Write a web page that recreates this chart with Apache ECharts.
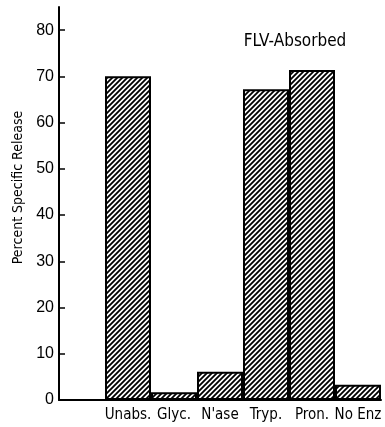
<!DOCTYPE html>
<html>
<head>
<meta charset="utf-8">
<script src="https://cdn.jsdelivr.net/npm/echarts@6/dist/echarts.min.js"></script>
<style>
  html, body { margin: 0; padding: 0; background: #fff; }
  #chart { width: 385px; height: 427px; }
</style>
</head>
<body>
<div id="chart"></div>
<script>
var categories = ['Unabs.', 'Glyc.', "N'ase", 'Tryp.', 'Pron.', 'No Enz'];
var release = [70, 1.7, 6.1, 67.2, 71.4, 3.3];
var yTicks = [0, 10, 20, 30, 40, 50, 60, 70, 80];

var narrow = "'Liberation Sans Narrow', 'DejaVu Sans Condensed', sans-serif";

// hatch tile, "/" lines
function hatch() {
  var c = document.createElement('canvas');
  c.width = 5; c.height = 5;
  var ctx = c.getContext('2d');
  ctx.fillStyle = '#fff';
  ctx.fillRect(0, 0, 5, 5);
  ctx.strokeStyle = '#000';
  ctx.lineWidth = 1.8;
  ctx.beginPath();
  ctx.moveTo(-1, 6); ctx.lineTo(6, -1);
  ctx.moveTo(-1, 1); ctx.lineTo(1, -1);
  ctx.moveTo(4, 6); ctx.lineTo(6, 4);
  ctx.stroke();
  return c;
}

var chart = echarts.init(document.getElementById('chart'), null, { renderer: 'canvas' });

var option = {
  backgroundColor: '#fff',
  animation: false,
  title: {
    text: 'FLV-Absorbed',
    left: 290, top: 28,
    textAlign: 'center',
    textStyle: { fontFamily: narrow, fontSize: 17, fontWeight: 'normal', color: '#000' }
  },
  grid: { left: 59, right: 4, top: 7, bottom: 27 },
  xAxis: {
    type: 'category',
    data: [''].concat(categories),
    axisLine: { lineStyle: { color: '#000', width: 2 } },
    axisTick: { show: false },
    axisLabel: { color: '#000', fontFamily: narrow, fontSize: 15, margin: 8, interval: 0 }
  },
  yAxis: {
    type: 'value',
    min: 0, max: 85, interval: 10,
    name: 'Percent Specific Release',
    nameLocation: 'middle',
    nameGap: 30,
    nameTextStyle: { color: '#000', fontFamily: narrow, fontSize: 14, padding: [0, 0, 0, 32] },
    splitLine: { show: false },
    axisLine: { show: true, lineStyle: { color: '#000', width: 2 } },
    axisTick: { show: true, inside: true, length: 6, lineStyle: { color: '#000', width: 1.5 } },
    axisLabel: { color: '#000', fontFamily: "'Liberation Sans', sans-serif", fontSize: 16, margin: 5, showMaxLabel: false }
  },
  series: [{
    type: 'bar',
    data: [null].concat(release),
    barWidth: '100%',
    barCategoryGap: '0%',
    itemStyle: {
      color: { image: hatch(), repeat: 'repeat' },
      borderColor: '#000',
      borderWidth: 2
    }
  }]
};

chart.setOption(option);
</script>
</body>
</html>
